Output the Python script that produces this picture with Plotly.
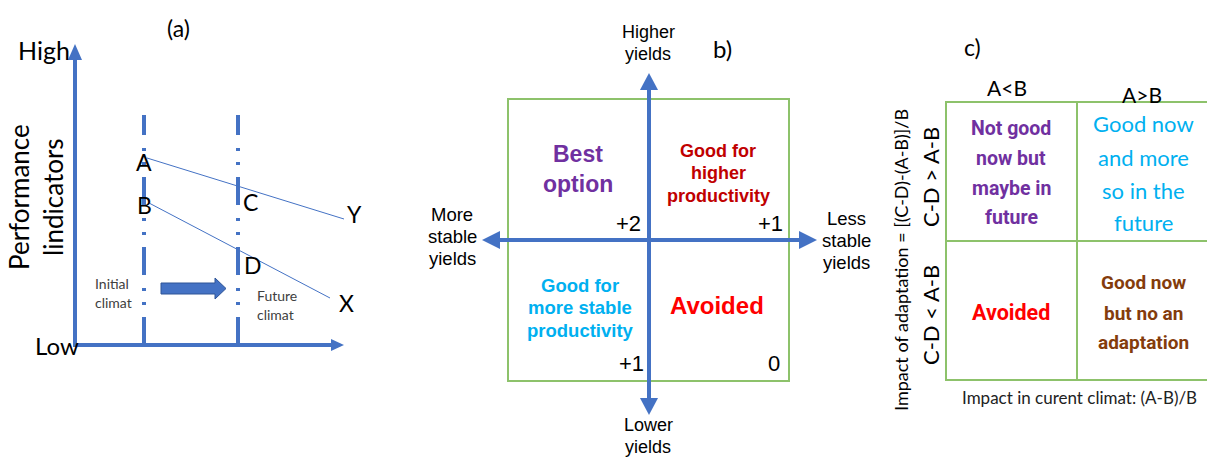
import plotly.graph_objects as go

# ---------------- data (text content) ----------------
panel_titles = ["(a)", "b)", "c)"]

# panel (a)
a_axis_high = "High"
a_axis_low = "Low"
a_axis_title = ["Performance", "lindicators"]
a_points = ["A", "B", "C", "D"]
a_ends = ["Y", "X"]
a_climates = [["Initial", "climat"], ["Future", "climat"]]

# panel (b)
b_directions = {
    "top": ["Higher", "yields"],
    "bottom": ["Lower", "yields"],
    "left": ["More", "stable", "yields"],
    "right": ["Less", "stable", "yields"],
}
b_quadrants = [
    ["Best", "option"],
    ["Good for", "higher", "productivity"],
    ["Good for", "more stable", "productivity"],
    ["Avoided"],
]
b_scores = ["+2", "+1", "+1", "0"]

# panel (c)
c_columns = ["A<B", "A>B"]
c_rows = ["C-D > A-B", "C-D < A-B"]
c_y_title = "Impact of adaptation = [(C-D)-(A-B)]/B"
c_x_title = "Impact in curent climat: (A-B)/B"
c_cells = [
    ["Not good", "now but", "maybe in", "future"],
    ["Good now", "and more", "so in the", "future"],
    ["Avoided"],
    ["Good now", "but no an", "adaptation"],
]

# ---------------- styles ----------------
BLUE = "#4472C4"
GREEN = "#8DC26B"
LATO = "Lato, Carlito, sans-serif"
ARIAL = "Liberation Sans, Arial, sans-serif"
NARROW = "Roboto, Liberation Sans, sans-serif"

shapes = []
annotations = []


def txt(x, y, s, size, color="black", family=LATO, bold=False, angle=0, xanchor="center"):
    annotations.append(dict(
        x=x, y=y, xref="x", yref="y", text=("<b>%s</b>" % s) if bold else s,
        showarrow=False, textangle=angle, xanchor=xanchor, yanchor="middle",
        font=dict(size=size, color=color, family=family)))


def multiline(x, ys, lines, size, **kw):
    for y, s in zip(ys, lines):
        txt(x, y, s, size, **kw)


def line(x0, y0, x1, y1, color=BLUE, width=4, dash=None):
    d = dict(type="line", xref="x", yref="y", x0=x0, y0=y0, x1=x1, y1=y1,
             line=dict(color=color, width=width))
    if dash:
        d["line"]["dash"] = dash
    shapes.append(d)


def poly(pts, color=BLUE, outline=None):
    path = "M " + " L ".join("%g %g" % p for p in pts) + " Z"
    shapes.append(dict(type="path", xref="x", yref="y", path=path, fillcolor=color,
                       line=dict(color=outline or color, width=1 if outline else 0)))


def rect(x0, y0, x1, y1, color=GREEN, width=2):
    shapes.append(dict(type="rect", xref="x", yref="y", x0=x0, y0=y0, x1=x1, y1=y1,
                       line=dict(color=color, width=width), fillcolor="rgba(0,0,0,0)"))


# ================= panel (a) =================
txt(178, 28, panel_titles[0], 23)
# axes
line(75, 347, 75, 58)
poly([(68, 60), (82, 60), (75, 44)])
line(73, 345, 332, 345)
poly([(331, 339), (331, 351), (344, 345)])
txt(44, 50, a_axis_high, 25, xanchor="center")
txt(57, 345, a_axis_low, 24, xanchor="center")
txt(36, 197, "<br>".join(a_axis_title), 26, angle=-90)
# climate dash-dot lines (drawn from bottom up)
for xv in (144, 238):
    line(xv, 345, xv, 115, width=4, dash="28px,12px,3px,11px,3px,13px")
# trajectories
line(147, 158, 344, 219, width=1)
line(149, 203, 330, 298, width=1)
txt(144, 162, a_points[0], 23)
txt(144, 205, a_points[1], 23)
txt(250, 202, a_points[2], 23)
txt(253, 265, a_points[3], 23)
txt(354, 214, a_ends[0], 23)
txt(346, 303, a_ends[1], 23)
multiline(93, [283, 302], a_climates[0], 14, color="#404040", xanchor="left")
multiline(255, [295, 314], a_climates[1], 14, color="#404040", xanchor="left")
# block arrow
poly([(161, 283), (215, 283), (215, 278), (226, 288.5), (215, 299), (215, 294), (161, 294)],
     color=BLUE, outline="#2F5597")

# ================= panel (b) =================
rect(508, 99, 789, 381)
line(649, 410, 649, 86)
poly([(640, 90), (658, 90), (649, 73)])
poly([(640, 398), (658, 398), (649, 415)])
line(490, 240, 808, 240)
poly([(500, 231), (500, 249), (482, 240)])
poly([(799, 231), (799, 249), (817, 240)])
txt(722, 48, panel_titles[1], 24)
multiline(648, [32, 54], b_directions["top"], 18, family=ARIAL)
multiline(648, [425, 447], b_directions["bottom"], 18, family=ARIAL)
multiline(452, [214, 236, 258], b_directions["left"], 18.5, family=ARIAL)
multiline(846, [218, 240, 262], b_directions["right"], 18.5, family=ARIAL)
multiline(578, [154, 184], b_quadrants[0], 23, color="#7030A0", family=ARIAL, bold=True)
multiline(718, [151, 173, 196], b_quadrants[1], 18, color="#C00000", family=ARIAL, bold=True)
multiline(580, [285, 307, 330], b_quadrants[2], 18.5, color="#00B0F0", family=ARIAL, bold=True)
multiline(717, [305], b_quadrants[3], 24, color="#FF0000", family=ARIAL, bold=True)
txt(628, 223, b_scores[0], 22, family=ARIAL)
txt(770, 223, b_scores[1], 22, family=ARIAL)
txt(631, 363, b_scores[2], 22, family=ARIAL)
txt(774, 363, b_scores[3], 22, family=ARIAL)

# ================= panel (c) =================
txt(972, 47, panel_titles[2], 23)
rect(946, 102, 1240, 380)
line(1077, 102, 1077, 380, color=GREEN, width=2)
line(946, 241, 1240, 241, color=GREEN, width=2)
txt(1007, 87, c_columns[0], 21)
txt(1142, 94, c_columns[1], 21)
txt(901, 260, c_y_title, 18, angle=-90)
txt(930, 177, c_rows[0], 22, angle=-90)
txt(930, 315, c_rows[1], 22, angle=-90)
multiline(1011, [128, 158, 188, 217], c_cells[0], 19.5, color="#7030A0", family=NARROW, bold=True)
multiline(1143, [123, 157, 190, 222], c_cells[1], 22, color="#00B0F0")
multiline(1011, [312], c_cells[2], 21.5, color="#FF0000", family=NARROW, bold=True)
multiline(1143, [282, 313, 342], c_cells[3], 19, color="#843C0C", family=NARROW, bold=True)
txt(1079, 397, c_x_title, 17, color="#222222")

fig = go.Figure()
fig.add_trace(go.Scatter(x=[0, 1207], y=[0, 457], mode="markers",
                         marker=dict(opacity=0), hoverinfo="skip", showlegend=False))
fig.update_layout(
    width=1207, height=457, margin=dict(l=0, r=0, t=0, b=0),
    paper_bgcolor="white", plot_bgcolor="white",
    xaxis=dict(range=[0, 1207], visible=False, fixedrange=True),
    yaxis=dict(range=[457, 0], visible=False, fixedrange=True),
    shapes=shapes, annotations=annotations, showlegend=False,
)
fig.write_html("out.html", config={"displayModeBar": False},
               post_script="document.body.style.margin='0';document.body.style.overflow='hidden';")
